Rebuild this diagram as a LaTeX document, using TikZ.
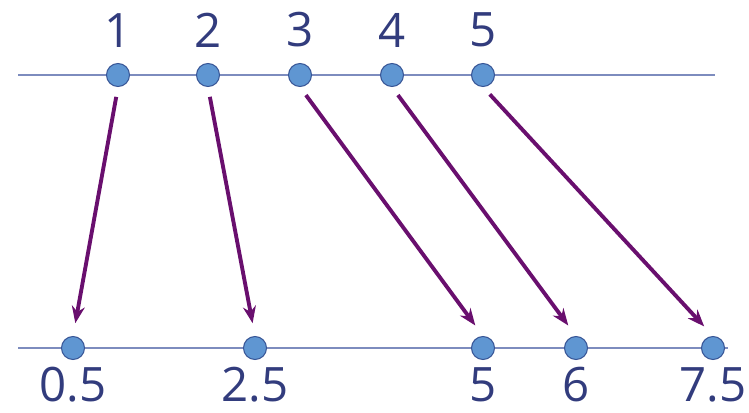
\documentclass[tikz,border=0pt]{standalone}
\usepackage{fontspec}
\setmainfont{Open Sans}
\usetikzlibrary{arrows.meta,positioning}
\definecolor{axisblue}{RGB}{125,140,190}
\definecolor{dotfill}{RGB}{95,150,210}
\definecolor{dotdraw}{RGB}{55,85,150}
\definecolor{numblue}{RGB}{50,60,125}
\definecolor{mappurple}{RGB}{105,15,110}

\begin{document}
\begin{tikzpicture}[x=0.02cm,y=-0.02cm,>={Stealth[length=.34cm,width=.26cm]},
  node distance=.31cm,
  dot/.style={circle,draw=dotdraw,fill=dotfill,line width=.6pt,
    minimum size=.46cm,inner sep=0},
  num/.style={font=\fontsize{27}{29}\selectfont,text=numblue,inner sep=0},
  axis/.style={axisblue,line width=1pt},
  map/.style={->,mappurple,line width=2.2pt,shorten <=.2cm,shorten >=.26cm}]
 \useasboundingbox (0,0) rectangle (749,412);
 \coordinate (tl) at (18,75);
 \coordinate (tr) at (715,75);
 \coordinate (bl) at (18,348);
 \coordinate (br) at (728,348);
 \draw[axis] (tl)--(tr);
 \draw[axis] (bl)--(br);
 % upper line
 \node[dot] (t1) at (118,75) {};
 \node[dot] (t2) at (208,75) {};
 \node[dot] (t3) at (300,75) {};
 \node[dot] (t4) at (392,75) {};
 \node[dot] (t5) at (483,75) {};
 \node[num,above=of t1] (n1) {1};
 \node[num,above=of t2] (n2) {2};
 \node[num,above=of t3] (n3) {3};
 \node[num,above=of t4] (n4) {4};
 \node[num,above=of t5] (n5) {5};
 % lower line
 \node[dot] (b1) at (73,348) {};
 \node[dot] (b2) at (255,348) {};
 \node[dot] (b3) at (483,348) {};
 \node[dot] (b4) at (576,348) {};
 \node[dot] (b5) at (713,348) {};
 \node[num,below=.14cm of b1] (m1) {0.5};
 \node[num,below=.14cm of b2] (m2) {2.5};
 \node[num,below=.14cm of b3] (m3) {5};
 \node[num,below=.14cm of b4] (m4) {6};
 \node[num,below=.14cm of b5] (m5) {7.5};
 \draw[map] (t1.south)--(b1.north);
 \draw[map] (t2.south)--(b2.north);
 \draw[map] (t3.south)--(b3.north);
 \draw[map] (t4.south)--(b4.north);
 \draw[map] (t5.south)--(b5.north);
\end{tikzpicture}
\end{document}
